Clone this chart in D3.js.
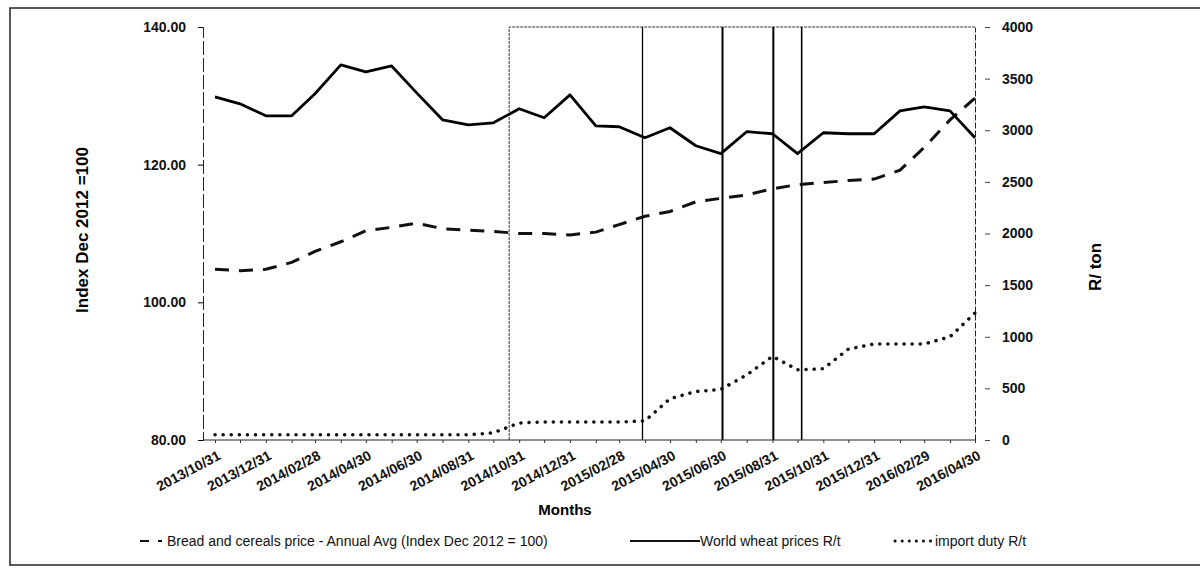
<!DOCTYPE html>
<html>
<head>
<meta charset="utf-8">
<script src="https://cdn.jsdelivr.net/npm/d3@7"></script>
<style>
  body { margin: 0; background: #fff; }
  svg { display: block; font-family: "Liberation Sans", Arial, sans-serif; }
</style>
</head>
<body>
<svg id="drawing_region"></svg>
<script>
// month-end dates of the series
const months = ["2013/10/31","2013/11/30","2013/12/31","2014/01/31","2014/02/28","2014/03/31",
    "2014/04/30","2014/05/31","2014/06/30","2014/07/31","2014/08/31","2014/09/30","2014/10/31",
    "2014/11/30","2014/12/31","2015/01/31","2015/02/28","2015/03/31","2015/04/30","2015/05/31",
    "2015/06/30","2015/07/31","2015/08/31","2015/09/30","2015/10/31","2015/11/30","2015/12/31",
    "2016/01/31","2016/02/29","2016/03/31","2016/04/30"];
const tickLabels = ["2013/10/31","2013/12/31","2014/02/28","2014/04/30","2014/06/30","2014/08/31",
    "2014/10/31","2014/12/31","2015/02/28","2015/04/30","2015/06/30","2015/08/31","2015/10/31",
    "2015/12/31","2016/02/29","2016/04/30"];

// bread and cereals index (left axis)
const breadIndex = [104.8,104.6,104.8,105.8,107.4,108.8,110.4,110.9,111.5,110.7,110.5,110.3,110.0,
    110.0,109.8,110.2,111.3,112.5,113.2,114.6,115.1,115.6,116.5,117.1,117.4,117.7,117.9,119.2,
    122.5,126.5,129.7];
// world wheat price R/t (right axis)
const wheatPrice = [3324,3256,3140,3140,3353,3633,3565,3623,3362,3101,3053,3072,3208,3121,3343,
    3043,3034,2928,3024,2850,2773,2986,2966,2773,2976,2966,2966,3188,3227,3188,2928];
// import duty R/t (right axis)
const importDuty = [50,50,50,50,50,50,50,50,50,50,50,70,165,175,175,175,175,185,400,470,490,630,
    810,680,690,880,930,930,930,1000,1230];

// dates of the vertical marker lines
const markerDates = ["2014/10/19","2015/03/28","2015/07/02","2015/09/01","2015/10/05"];

const leftTicks = [80, 100, 120, 140];
const rightTicks = [0, 500, 1000, 1500, 2000, 2500, 3000, 3500, 4000];

const config = {
    width: 1200,
    height: 569,
    plotLeft: 203,
    plotRight: 975,
    firstX: 215,
    top: 27,
    bottom: 440
};

const parse = d3.timeParse("%Y/%m/%d");
const data = months.map((m, i) => ({
    date: parse(m), bread: breadIndex[i], wheat: wheatPrice[i], duty: importDuty[i]
}));

const svg = d3.select("#drawing_region")
    .attr("width", config.width)
    .attr("height", config.height);

// outer frame
svg.append("rect")
    .attr("x", 10).attr("y", 8)
    .attr("width", 1210).attr("height", 557)
    .attr("fill", "none")
    .attr("stroke", "#222")
    .attr("stroke-width", 1.5);

const x = d3.scaleTime()
    .domain([parse(months[0]), parse(months[months.length - 1])])
    .range([config.firstX, config.plotRight]);

const yLeft = d3.scaleLinear().domain([80, 140]).range([config.bottom, config.top]);
const yRight = d3.scaleLinear().domain([0, 4000]).range([config.bottom, config.top]);

// box and vertical markers
const m0 = x(parse(markerDates[0]));
svg.append("path")
    .attr("d", `M${m0},${config.bottom}V${config.top}H${config.plotRight}`)
    .attr("fill", "none")
    .attr("stroke", "#333")
    .attr("stroke-width", 1)
    .attr("stroke-dasharray", "3,1");

const markerWidths = [1, 1.3, 2, 2, 1.6];
svg.selectAll(".marker")
    .data(markerDates.slice(1))
    .enter()
    .append("line")
    .attr("class", "marker")
    .attr("x1", d => x(parse(d)))
    .attr("x2", d => x(parse(d)))
    .attr("y1", config.top)
    .attr("y2", config.bottom)
    .attr("stroke", "#000")
    .attr("stroke-width", (d, i) => markerWidths[i + 1]);

// left axis
const leftAxis = svg.append("g")
    .attr("transform", `translate(${config.plotLeft},0)`)
    .call(d3.axisLeft(yLeft).tickValues(leftTicks).tickFormat(d3.format(".2f")).tickSize(5).tickPadding(12));
leftAxis.select(".domain").attr("stroke", "#222").attr("stroke-dasharray", "14,3");
leftAxis.selectAll("text").attr("font-size", 14).attr("font-weight", "bold").attr("fill", "#111");

// right axis
const rightAxis = svg.append("g")
    .attr("transform", `translate(${config.plotRight},0)`)
    .call(d3.axisRight(yRight).tickValues(rightTicks).tickFormat(d3.format("d")).tickSize(0).tickPadding(27));
rightAxis.select(".domain").attr("stroke", "#222").attr("stroke-dasharray", "6,2");
rightAxis.selectAll(".tick line")
    .attr("x1", 10).attr("x2", 15)
    .attr("stroke", "#444");
rightAxis.selectAll("text").attr("font-size", 14).attr("font-weight", "bold").attr("fill", "#111");

// bottom axis
const xAxis = svg.append("g")
    .attr("transform", `translate(0,${config.bottom})`)
    .call(d3.axisBottom(x).tickValues(data.map(d => d.date)).tickSize(3).tickFormat(""));
xAxis.select(".domain").attr("d", `M${config.plotLeft},0H${config.plotRight}`).attr("stroke", "#222");
xAxis.selectAll(".tick line").attr("stroke", "#333");

svg.append("g")
    .selectAll("text")
    .data(tickLabels)
    .enter()
    .append("text")
    .attr("transform", d => `translate(${x(parse(d)) + 2},${config.bottom + 10}) rotate(-28)`)
    .attr("text-anchor", "end")
    .attr("dy", "0.7em")
    .attr("font-size", 14)
    .attr("font-weight", "bold")
    .attr("fill", "#111")
    .text(d => d);

// lines
const breadLine = d3.line().x(d => x(d.date)).y(d => yLeft(d.bread));
const wheatLine = d3.line().x(d => x(d.date)).y(d => yRight(d.wheat));
const dutyLine = d3.line().x(d => x(d.date)).y(d => yRight(d.duty));

svg.append("path")
    .datum(data)
    .attr("d", breadLine)
    .attr("fill", "none")
    .attr("stroke", "#111")
    .attr("stroke-width", 3)
    .attr("stroke-dasharray", "14,10");

svg.append("path")
    .datum(data)
    .attr("d", wheatLine)
    .attr("fill", "none")
    .attr("stroke", "#000")
    .attr("stroke-width", 2.8)
    .attr("stroke-linejoin", "round");

svg.append("path")
    .datum(data)
    .attr("d", dutyLine)
    .attr("fill", "none")
    .attr("stroke", "#111")
    .attr("stroke-width", 3.5)
    .attr("stroke-linecap", "round")
    .attr("stroke-dasharray", "0.1,8");

// axis titles
svg.append("text")
    .attr("transform", "translate(82,230) rotate(-90)")
    .attr("text-anchor", "middle")
    .attr("dy", "0.35em")
    .attr("font-size", 17)
    .attr("font-weight", "bold")
    .text("Index  Dec 2012 =100");

svg.append("text")
    .attr("transform", "translate(1095,267) rotate(-90)")
    .attr("text-anchor", "middle")
    .attr("dy", "0.35em")
    .attr("font-size", 17)
    .attr("font-weight", "bold")
    .text("R/ ton");

svg.append("text")
    .attr("x", 565).attr("y", 515)
    .attr("text-anchor", "middle")
    .attr("font-size", 15)
    .attr("font-weight", "bold")
    .text("Months");

// legend
const legendItems = [
    { label: "Bread and cereals price - Annual Avg (Index Dec 2012 = 100)", x: 140, len: 22, text: 167, dash: "9,9", w: 2 },
    { label: "World wheat prices R/t", x: 630, len: 70, text: 700, dash: null, w: 2 },
    { label: "import duty R/t", x: 895, len: 36, text: 935, dash: "0.1,7", w: 3 }
];
const legend = svg.append("g").attr("transform", "translate(0,541)");
legendItems.forEach(d => {
    legend.append("line")
        .attr("x1", d.x).attr("x2", d.x + d.len)
        .attr("stroke", "#111")
        .attr("stroke-width", d.w)
        .attr("stroke-linecap", d.dash && d.dash.startsWith("0.1") ? "round" : "butt")
        .attr("stroke-dasharray", d.dash);
    legend.append("text")
        .attr("x", d.text)
        .attr("dy", "0.35em")
        .attr("font-size", 14)
        .attr("fill", "#111")
        .text(d.label);
});
</script>
</body>
</html>
